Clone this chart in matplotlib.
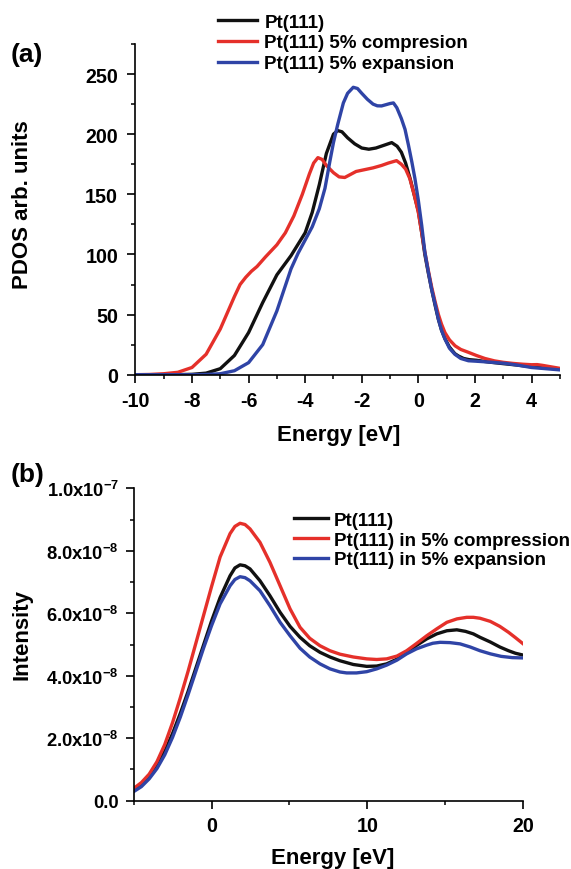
import matplotlib
matplotlib.use("Agg")
import matplotlib.pyplot as plt
from matplotlib.ticker import MultipleLocator, FixedLocator

plt.rcParams['font.family'] = ['Liberation Sans', 'DejaVu Sans']
plt.rcParams['font.weight'] = 'bold'
plt.rcParams['mathtext.fontset'] = 'custom'
plt.rcParams['mathtext.rm'] = 'Liberation Sans:bold'
plt.rcParams['mathtext.default'] = 'rm'
plt.rcParams['axes.unicode_minus'] = False

# ---------------- Panel (a) data: PDOS ----------------
pdos_labels = ['Pt(111)', 'Pt(111) 5% compresion', 'Pt(111) 5% expansion']

e_black = [-10, -9, -8.5, -8, -7.5, -7.0, -6.5, -6.0, -5.5, -5.0, -4.5, -4.0, -3.75,
           -3.5, -3.25, -3.0, -2.85, -2.7, -2.5, -2.25, -2.0, -1.75, -1.5, -1.25, -0.94,
           -0.75, -0.6, -0.45, -0.29, -0.15, 0.0, 0.12, 0.23, 0.35, 0.47, 0.6, 0.71,
           0.82, 0.94, 1.1, 1.29, 1.42, 1.6, 1.8, 2.05, 2.5, 3.0, 3.5, 4.0, 4.5, 5.0]
pdos_black = [0, 0, 0.1, 0.3, 1.3, 5, 16, 35, 60, 83, 99, 118, 135,
              158, 184, 200, 203, 202, 197, 192, 188.5, 187.5, 188.5, 190.5, 193,
              190, 185, 176, 163, 150, 136, 118, 100, 85, 71, 57, 46,
              37, 30, 23, 17.5, 15.5, 13.5, 12.5, 12, 10.5, 9.2, 8, 6.6, 5.6, 4.7]

e_red = [-10, -9.5, -9, -8.5, -8.0, -7.5, -7.0, -6.5, -6.3, -6.1, -5.9, -5.7, -5.4,
         -5.0, -4.7, -4.4, -4.1, -3.85, -3.7, -3.55, -3.4, -3.25, -3.0, -2.8, -2.6,
         -2.4, -2.2, -1.9, -1.6, -1.3, -1.06, -0.77, -0.6, -0.45, -0.3, -0.15, 0.0,
         0.12, 0.23, 0.35, 0.47, 0.6, 0.71, 0.82, 0.94, 1.1, 1.3, 1.5, 1.77, 2.05,
         2.35, 2.69, 3.0, 3.34, 3.7, 4.0, 4.2, 4.38, 4.7, 5.0]
pdos_red = [0, 0.2, 0.8, 2, 6, 17, 38, 65, 75, 81, 86, 90, 98,
            108, 118, 132, 150, 167, 176, 180.5, 179, 174, 168, 164.5, 164,
            166.5, 169, 170.5, 172, 174, 176, 178, 175, 171, 163, 150, 135,
            118, 102, 87, 73, 60, 50, 42, 35, 29, 24, 21, 18.6, 16,
            13.5, 11.5, 10.3, 9.4, 8.7, 8.3, 8.4, 7.8, 6.5, 5.3]

e_blue = [-10, -8, -7.5, -7.0, -6.5, -6.0, -5.5, -5.0, -4.5, -4.25, -4.0, -3.75, -3.5,
          -3.3, -3.13, -3.0, -2.85, -2.65, -2.5, -2.3, -2.15, -2.0, -1.8, -1.6, -1.45,
          -1.3, -1.15, -1.0, -0.88, -0.76, -0.6, -0.47, -0.35, -0.23, -0.12, 0.0, 0.12,
          0.23, 0.35, 0.47, 0.6, 0.71, 0.82, 0.94, 1.1, 1.29, 1.5, 1.77, 2.05, 2.5,
          3.08, 3.5, 4.0, 4.5, 5.0]
pdos_blue = [0, 0, 0.2, 0.8, 3.3, 10, 25, 53, 88, 101, 112, 123, 138,
             155, 177, 193, 208, 226, 234, 239, 238, 234, 229, 225, 223.6,
             223.5, 224.5, 225.5, 226, 222, 213, 204, 191, 177, 163, 145, 124,
             102, 86, 71, 58, 46, 37, 29.7, 22, 17, 13.5, 11.6, 11.2, 10.5,
             9.4, 8, 6, 5, 4]

# ---------------- Panel (b) data: Intensity (units of 1e-8) ----------------
int_labels = ['Pt(111)', 'Pt(111) in 5% compression', 'Pt(111) in 5% expansion']

e_b = [-5, -4.5, -4, -3.5, -3, -2.5, -2, -1.5, -1, -0.5, 0, 0.55, 1.19, 1.5, 1.83,
       2.15, 2.47, 3.11, 3.75, 4.4, 5.04, 5.68, 6.3, 6.96, 7.6, 8.24, 9.1, 9.96, 10.6,
       11.24, 11.9, 12.52, 13.15, 13.81, 14.45, 15.1, 15.74, 16.3, 16.8, 17.23, 17.89,
       18.5, 19.06, 19.5, 20]
int_black = [0.35, 0.52, 0.78, 1.12, 1.58, 2.15, 2.8, 3.5, 4.25, 5.0, 5.75, 6.5, 7.2,
             7.45, 7.55, 7.52, 7.42, 7.04, 6.56, 6.03, 5.58, 5.23, 4.96, 4.75, 4.6,
             4.48, 4.36, 4.30, 4.31, 4.38, 4.53, 4.75, 4.97, 5.18, 5.34, 5.44, 5.47,
             5.42, 5.34, 5.23, 5.08, 4.92, 4.8, 4.72, 4.66]

e_r = [-5, -4.5, -4, -3.5, -3, -2.5, -2, -1.5, -1, -0.5, 0, 0.55, 1.19, 1.5, 1.83,
       2.15, 2.47, 3.11, 3.75, 4.4, 5.04, 5.68, 6.3, 6.96, 7.6, 8.24, 9.1, 9.96, 10.6,
       11.24, 11.9, 12.52, 13.15, 13.81, 14.45, 15.1, 15.75, 16.38, 16.8, 17.23, 17.89,
       18.5, 19.06, 19.5, 20]
int_red = [0.39, 0.58, 0.85, 1.25, 1.8, 2.5, 3.3, 4.15, 5.05, 5.95, 6.85, 7.8, 8.55,
           8.78, 8.88, 8.84, 8.70, 8.27, 7.63, 6.88, 6.14, 5.55, 5.2, 4.96, 4.8,
           4.69, 4.6, 4.54, 4.52, 4.54, 4.63, 4.80, 5.03, 5.28, 5.5, 5.71, 5.82,
           5.87, 5.87, 5.84, 5.74, 5.58, 5.39, 5.22, 5.02]

e_bl = [-5, -4.5, -4, -3.5, -3, -2.5, -2, -1.5, -1, -0.5, 0, 0.55, 1.19, 1.5, 1.83,
        2.15, 2.47, 3.11, 3.75, 4.4, 5.04, 5.68, 6.3, 6.96, 7.6, 8.24, 8.67, 9.3, 9.96,
        10.6, 11.24, 11.9, 12.52, 13.15, 13.81, 14.2, 14.67, 15.3, 15.95, 16.6, 17.23,
        17.9, 18.59, 19.3, 20]
int_blue = [0.29, 0.45, 0.7, 1.03, 1.47, 2.03, 2.68, 3.4, 4.15, 4.9, 5.6, 6.3, 6.88,
            7.08, 7.17, 7.14, 7.04, 6.72, 6.24, 5.71, 5.28, 4.88, 4.6, 4.38, 4.22,
            4.12, 4.09, 4.09, 4.13, 4.22, 4.34, 4.5, 4.70, 4.86, 4.98, 5.04, 5.07,
            5.06, 5.02, 4.92, 4.80, 4.7, 4.62, 4.58, 4.57]
int_scale = 1e-8

yticks_b = [0.0, 2e-8, 4e-8, 6e-8, 8e-8, 1e-7]
yticklabels_b = ['0.0', '2.0x10$^{-8}$', '4.0x10$^{-8}$', '6.0x10$^{-8}$',
                 '8.0x10$^{-8}$', '1.0x10$^{-7}$']

colors = ['#111111', '#e5302a', '#2f44a6']
lw = 2.4
W, H = 571, 870

fig = plt.figure(figsize=(5.71, 8.70), dpi=100)

def style_axes(ax, xpad, ypad, ysize):
    for s in ['top', 'right']:
        ax.spines[s].set_visible(False)
    for s in ['left', 'bottom']:
        ax.spines[s].set_linewidth(1.2)
    ax.tick_params(which='major', direction='out', length=5.5, width=1.2)
    ax.tick_params(which='minor', direction='out', length=3, width=1.1)
    ax.tick_params(axis='x', which='major', pad=xpad, labelsize=14.2)
    ax.tick_params(axis='y', which='major', pad=ypad, labelsize=ysize)
    for t in ax.get_xticklabels() + ax.get_yticklabels():
        t.set_fontweight('bold')

# ---- (a)
ax1 = fig.add_axes([135.4 / W, 1 - 375.7 / H, (559.8 - 135.4) / W, (375.7 - 45) / H])
ax1.plot(e_black, pdos_black, color=colors[0], lw=lw, label=pdos_labels[0])
ax1.plot(e_red, pdos_red, color=colors[1], lw=lw, label=pdos_labels[1])
ax1.plot(e_blue, pdos_blue, color=colors[2], lw=lw, label=pdos_labels[2])
ax1.set_xlim(-10, 5)
ax1.set_ylim(0, 275)
ax1.xaxis.set_major_locator(FixedLocator([-10, -8, -6, -4, -2, 0, 2, 4]))
ax1.xaxis.set_minor_locator(MultipleLocator(1))
ax1.yaxis.set_major_locator(FixedLocator([0, 50, 100, 150, 200, 250]))
ax1.yaxis.set_minor_locator(MultipleLocator(25))
style_axes(ax1, 6, 7, 14.2)
ax1.set_xlabel('Energy [eV]', fontsize=16, fontweight='bold', va='center')
ax1.xaxis.set_label_coords(0.48, -0.182)
ax1.set_ylabel('PDOS arb. units', fontsize=16, fontweight='bold', va='center')
ax1.yaxis.set_label_coords(-0.267, 0.516)
ax1.legend(loc='upper left', bbox_to_anchor=(218.4 / W, 1 - 14.5 / H),
           bbox_transform=fig.transFigure, frameon=False,
           handlelength=2.05, handletextpad=0.4, labelspacing=0.2, borderpad=0,
           borderaxespad=0, prop={'weight': 'bold', 'size': 13.5})
fig.text(11 / W, 1 - 55 / H, '(a)', fontsize=19, fontweight='bold', va='center', ha='left')

# ---- (b)
ax2 = fig.add_axes([133.6 / W, 1 - 801.7 / H, (523.2 - 133.6) / W, (801.7 - 489.3) / H])
ax2.plot(e_b, [v * int_scale for v in int_black], color=colors[0], lw=lw, label=int_labels[0])
ax2.plot(e_r, [v * int_scale for v in int_red], color=colors[1], lw=lw, label=int_labels[1])
ax2.plot(e_bl, [v * int_scale for v in int_blue], color=colors[2], lw=lw, label=int_labels[2])
ax2.set_xlim(-5, 20)
ax2.set_ylim(0, 1e-7)
ax2.xaxis.set_major_locator(FixedLocator([0, 10, 20]))
ax2.xaxis.set_minor_locator(MultipleLocator(5))
ax2.set_yticks(yticks_b)
ax2.set_yticklabels(yticklabels_b)
ax2.yaxis.set_minor_locator(MultipleLocator(1e-8))
style_axes(ax2, 5.5, 5, 13.2)
ax2.set_xlabel('Energy [eV]', fontsize=16, fontweight='bold', va='center')
ax2.xaxis.set_label_coords(0.512, -0.183)
ax2.set_ylabel('Intensity', fontsize=16, fontweight='bold', va='center')
ax2.yaxis.set_label_coords(-0.2865, 0.534)
ax2.legend(loc='upper left', bbox_to_anchor=(293.8 / W, 1 - 512.5 / H),
           bbox_transform=fig.transFigure, frameon=False,
           handlelength=1.85, handletextpad=0.27, labelspacing=0.15, borderpad=0,
           borderaxespad=0, prop={'weight': 'bold', 'size': 13.5})
fig.text(11 / W, 1 - 475 / H, '(b)', fontsize=19, fontweight='bold', va='center', ha='left')

fig.savefig('out.png', dpi=100)
